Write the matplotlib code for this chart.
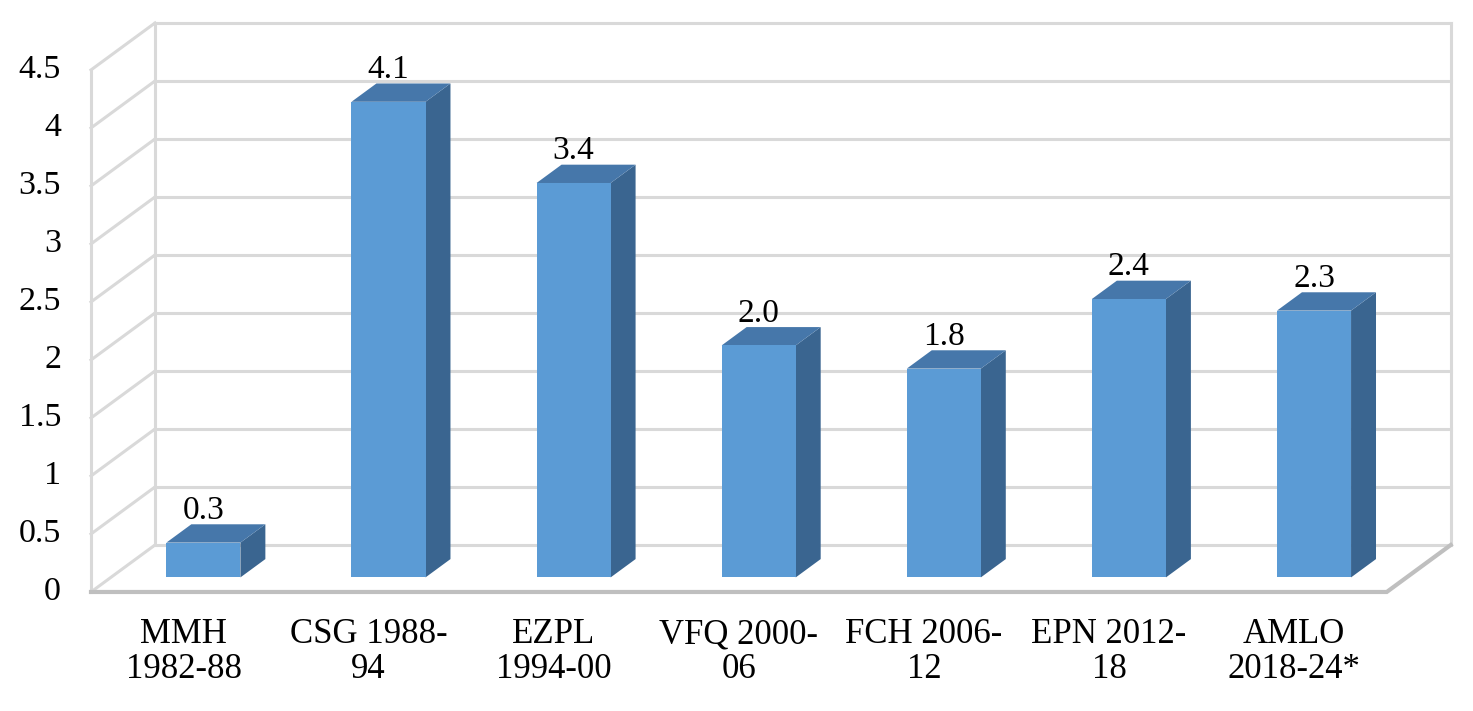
import matplotlib
matplotlib.use("Agg")
import matplotlib.pyplot as plt
from matplotlib.patches import Polygon

categories = ["MMH\n1982-88", "CSG 1988-\n94", "EZPL\n1994-00", "VFQ 2000-\n06",
              "FCH 2006-\n12", "EPN 2012-\n18", "AMLO\n2018-24*"]
values = [0.3, 4.1, 3.4, 2.0, 1.8, 2.4, 2.3]
value_labels = ["0.3", "4.1", "3.4", "2.0", "1.8", "2.4", "2.3"]
y_ticks = [0, 0.5, 1, 1.5, 2, 2.5, 3, 3.5, 4, 4.5]
y_tick_labels = ["0", "0.5", "1", "1.5", "2", "2.5", "3", "3.5", "4", "4.5"]

# oblique "3D" look: depth offset of the floor, in data units
DX = 0.3457
DY = 0.405
BAR_W = 0.4
BAR_D0 = 0.31   # bar front, fraction of floor depth
BAR_D1 = 0.70   # bar back

GRID = "#d9d9d9"
FLOOR = "#bfbfbf"
FRONT = "#5b9bd5"
TOP = "#4677aa"
SIDE = "#3a6590"

plt.rcParams["font.family"] = ["Liberation Serif", "DejaVu Serif"]

fig = plt.figure(figsize=(14.73, 7.11), dpi=100)
ax = fig.add_axes([0, 0, 1, 1])
ax.set_xlim(-0.9916, 6.966)
ax.set_ylim(-1.026, 5.103)
ax.axis("off")

n = len(categories)
x_left = -0.5
x_right = n - 0.5
top = y_ticks[-1]

# gridlines on left wall and back wall
for v in y_ticks:
    ax.plot([x_left, x_left + DX], [v, v + DY], color=GRID, lw=2.2, zorder=1)
    ax.plot([x_left + DX, x_right + DX], [v + DY, v + DY], color=GRID, lw=2.2, zorder=1)

# wall edges
ax.plot([x_left, x_left], [0, top], color=GRID, lw=2.2, zorder=1)
ax.plot([x_left + DX, x_left + DX], [DY, top + DY], color=GRID, lw=2.2, zorder=1)
ax.plot([x_right + DX, x_right + DX], [DY, top + DY], color=GRID, lw=2.2, zorder=1)

# floor front and right edges
ax.plot([x_left, x_right, x_right + DX], [0, 0, DY], color=FLOOR, lw=3,
        solid_joinstyle="miter", zorder=2)

# bars
d0x, d0y = BAR_D0 * DX, BAR_D0 * DY
ddx, ddy = (BAR_D1 - BAR_D0) * DX, (BAR_D1 - BAR_D0) * DY
for i, v in enumerate(values):
    x0 = i + d0x - BAR_W / 2
    x1 = i + d0x + BAR_W / 2
    yb = d0y
    yt = v + d0y
    front = Polygon([(x0, yb), (x1, yb), (x1, yt), (x0, yt)], closed=True,
                    facecolor=FRONT, edgecolor="none", zorder=5)
    side = Polygon([(x1, yb), (x1 + ddx, yb + ddy), (x1 + ddx, yt + ddy), (x1, yt)],
                   closed=True, facecolor=SIDE, edgecolor="none", zorder=4)
    lid = Polygon([(x0, yt), (x1, yt), (x1 + ddx, yt + ddy), (x0 + ddx, yt + ddy)],
                  closed=True, facecolor=TOP, edgecolor="none", zorder=4)
    ax.add_patch(side)
    ax.add_patch(lid)
    ax.add_patch(front)
    ax.annotate(value_labels[i], (i + d0x, yt + ddy), xytext=(0, 4),
                textcoords="offset points", ha="center", va="baseline",
                fontsize=24, zorder=6)

# y tick labels
for v, lab in zip(y_ticks, y_tick_labels):
    ax.text(x_left - 0.162, v, lab, ha="right", va="center", fontsize=24.5)

# category labels
for i, lab in enumerate(categories):
    ax.text(i, -0.225, lab, ha="center", va="top", fontsize=25, linespacing=1.08)

fig.savefig("out.png", dpi=100)
